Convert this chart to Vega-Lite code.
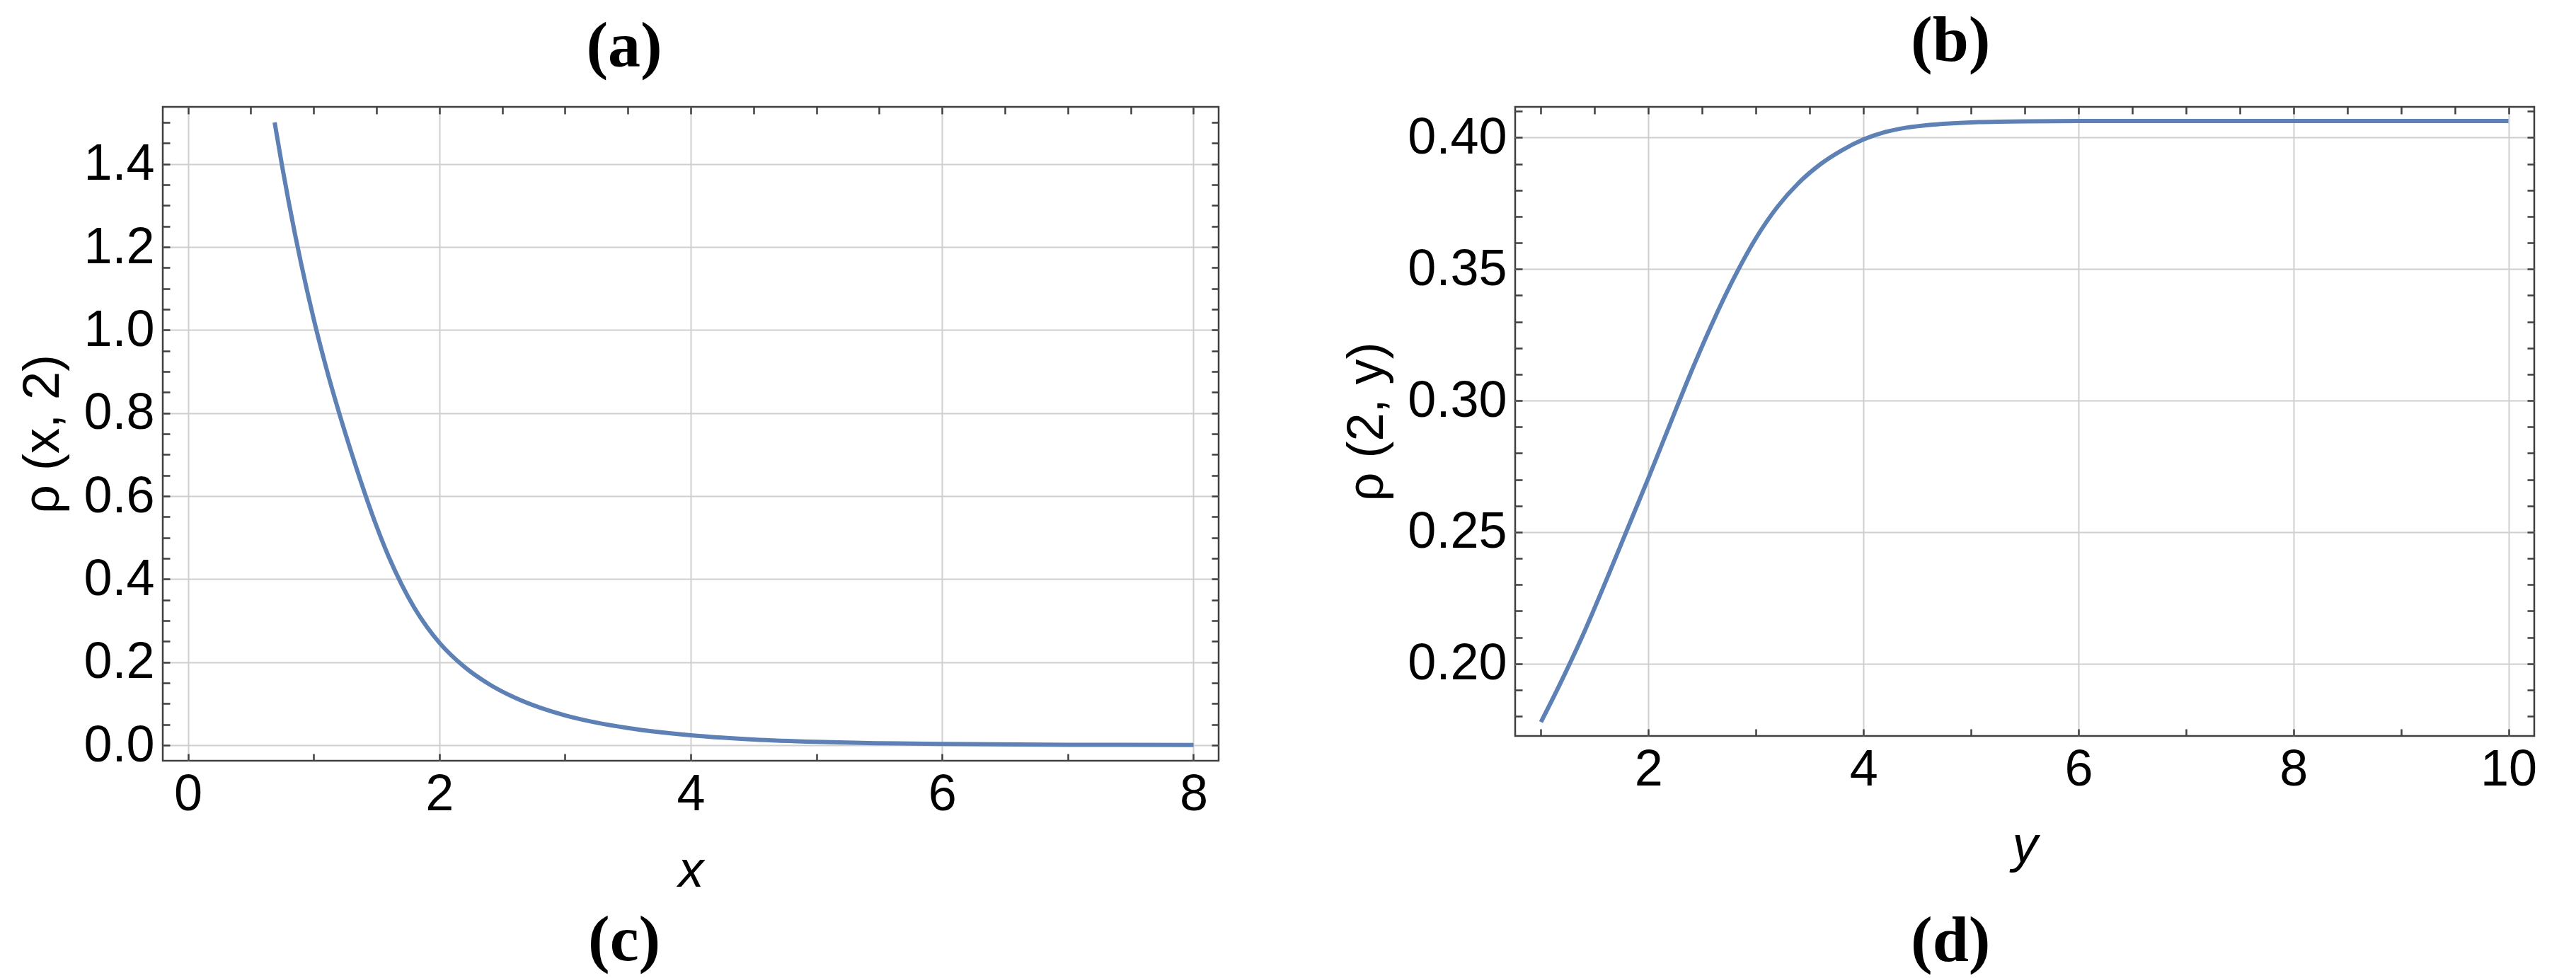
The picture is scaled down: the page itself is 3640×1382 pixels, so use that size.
{
  "$schema": "https://vega.github.io/schema/vega-lite/v6.json",
  "padding": {"left": 23, "top": 11, "right": 0, "bottom": 0},
  "background": "white",
  "config": {
    "view": {"stroke": "#404040", "strokeWidth": 2.5},
    "font": "Liberation Sans",
    "axis": {
      "labelFont": "Liberation Sans", "labelFontSize": 72, "labelColor": "black",
      "titleFont": "Liberation Sans", "titleFontSize": 72, "titleFontWeight": "normal", "titleColor": "black",
      "domain": false, "tickColor": "#404040", "tickWidth": 2.5, "tickSize": -10,
      "gridWidth": 2, "labelFlush": false, "labelOverlap": false, "labelBound": false, "zindex": 0
    },
    "title": {"font": "Liberation Serif", "fontSize": 92, "fontWeight": "bold", "color": "black", "anchor": "middle", "frame": "bounds"}
  },
  "spacing": 169,
  "hconcat": [
    {
      "title": {"text": "(c)", "orient": "bottom", "offset": 17, "dx": 8},
      "vconcat": [
        {
          "title": {"text": "(a)", "offset": 24, "dx": 8},
          "width": 1492,
          "height": 924,
          "data": {"values": [
            {"x": 0.69, "rho": 1.5}, {"x": 0.75, "rho": 1.394}, {"x": 0.8, "rho": 1.3115}, {"x": 0.9, "rho": 1.1608},
            {"x": 1.0, "rho": 1.0274}, {"x": 1.1, "rho": 0.9094}, {"x": 1.2, "rho": 0.8034}, {"x": 1.3, "rho": 0.7054},
            {"x": 1.4, "rho": 0.6133}, {"x": 1.5, "rho": 0.5279}, {"x": 1.6, "rho": 0.4521}, {"x": 1.7, "rho": 0.3872},
            {"x": 1.8, "rho": 0.3316}, {"x": 1.9, "rho": 0.2854}, {"x": 2.0, "rho": 0.2469}, {"x": 2.2, "rho": 0.1885},
            {"x": 2.4, "rho": 0.1462}, {"x": 2.6, "rho": 0.1146}, {"x": 2.8, "rho": 0.0905}, {"x": 3.0, "rho": 0.0719},
            {"x": 3.25, "rho": 0.0543}, {"x": 3.5, "rho": 0.0413}, {"x": 4.0, "rho": 0.0238}, {"x": 4.5, "rho": 0.0137},
            {"x": 5.0, "rho": 0.008}, {"x": 5.5, "rho": 0.0047}, {"x": 6.0, "rho": 0.0028}, {"x": 7.0, "rho": 0.001},
            {"x": 8.0, "rho": 0.0004}
          ]},
          "layer": [
            {
              "mark": {"type": "line", "color": "#5E81B5", "strokeWidth": 6, "interpolate": "monotone"},
              "encoding": {
                "x": {"field": "x", "type": "quantitative",
                  "scale": {"domain": [-0.2, 8.2], "nice": false, "zero": false},
                  "axis": {"title": "x", "titleFontStyle": "italic", "format": "d",
                    "values": [0,0.5,1,1.5,2,2.5,3,3.5,4,4.5,5,5.5,6,6.5,7,7.5,8],
                    "labelExpr": "datum.value % 2 == 0 ? datum.label : ''",
                    "gridColor": {"condition": {"test": "datum.value % 2 == 0", "value": "#cfcfcf"}, "value": "rgba(0,0,0,0)"},
                    "labelPadding": 22, "titlePadding": 37}},
                "y": {"field": "rho", "type": "quantitative",
                  "scale": {"domain": [-0.0375, 1.5375], "nice": false, "zero": false},
                  "axis": {"title": "ρ (x, 2)", "format": ".1f",
                    "values": [0,0.05,0.1,0.15,0.2,0.25,0.3,0.35,0.4,0.45,0.5,0.55,0.6,0.65,0.7,0.75,0.8,0.85,0.9,0.95,1,1.05,1.1,1.15,1.2,1.25,1.3,1.35,1.4,1.45,1.5],
                    "labelExpr": "round(datum.value*100) % 20 == 0 ? datum.label : ''",
                    "gridColor": {"condition": {"test": "round(datum.value*100) % 20 == 0", "value": "#cfcfcf"}, "value": "rgba(0,0,0,0)"},
                    "labelPadding": 22, "titlePadding": 20}}
              }
            },
            {
              "mark": {"type": "line", "opacity": 0},
              "encoding": {
                "x": {"field": "x", "type": "quantitative",
                  "axis": {"orient": "top", "title": null, "labels": false, "grid": false,
                    "values": [0,0.5,1,1.5,2,2.5,3,3.5,4,4.5,5,5.5,6,6.5,7,7.5,8]}},
                "y": {"field": "rho", "type": "quantitative",
                  "axis": {"orient": "right", "title": null, "labels": false, "grid": false,
                    "values": [0,0.05,0.1,0.15,0.2,0.25,0.3,0.35,0.4,0.45,0.5,0.55,0.6,0.65,0.7,0.75,0.8,0.85,0.9,0.95,1,1.05,1.1,1.15,1.2,1.25,1.3,1.35,1.4,1.45,1.5]}}
              }
            }
          ],
          "resolve": {"axis": {"x": "independent", "y": "independent"}}
        }
      ]
    },
    {
      "title": {"text": "(d)", "orient": "bottom", "offset": 53, "dx": 16},
      "vconcat": [
        {
          "title": {"text": "(b)", "offset": 16, "dx": 16},
          "width": 1440,
          "height": 889,
          "data": {"values": [
            {"y": 1.0, "rho": 0.1778}, {"y": 1.2, "rho": 0.1942}, {"y": 1.4, "rho": 0.2118}, {"y": 1.6, "rho": 0.231},
            {"y": 1.8, "rho": 0.2508}, {"y": 2.0, "rho": 0.2706}, {"y": 2.2, "rho": 0.291}, {"y": 2.4, "rho": 0.3112},
            {"y": 2.6, "rho": 0.33}, {"y": 2.8, "rho": 0.347}, {"y": 3.0, "rho": 0.3618}, {"y": 3.2, "rho": 0.3737},
            {"y": 3.4, "rho": 0.3829}, {"y": 3.6, "rho": 0.3899}, {"y": 3.8, "rho": 0.3952}, {"y": 4.0, "rho": 0.3993},
            {"y": 4.2, "rho": 0.4021}, {"y": 4.4, "rho": 0.4038}, {"y": 4.6, "rho": 0.4048}, {"y": 4.8, "rho": 0.4054},
            {"y": 5.0, "rho": 0.4058}, {"y": 5.5, "rho": 0.4062}, {"y": 6.0, "rho": 0.4063}, {"y": 7.0, "rho": 0.4063},
            {"y": 8.0, "rho": 0.4063}, {"y": 9.0, "rho": 0.4063}, {"y": 10.0, "rho": 0.4063}
          ]},
          "layer": [
            {
              "mark": {"type": "line", "color": "#5E81B5", "strokeWidth": 6, "interpolate": "monotone"},
              "encoding": {
                "x": {"field": "y", "type": "quantitative",
                  "scale": {"domain": [0.76, 10.24], "nice": false, "zero": false},
                  "axis": {"title": "y", "titleFontStyle": "italic", "format": "d",
                    "values": [1,1.5,2,2.5,3,3.5,4,4.5,5,5.5,6,6.5,7,7.5,8,8.5,9,9.5,10],
                    "labelExpr": "datum.value % 2 == 0 ? datum.label : ''",
                    "gridColor": {"condition": {"test": "datum.value % 2 == 0", "value": "#cfcfcf"}, "value": "rgba(0,0,0,0)"},
                    "labelPadding": 22, "titlePadding": 37}},
                "y": {"field": "rho", "type": "quantitative",
                  "scale": {"domain": [0.1725, 0.4117], "nice": false, "zero": false},
                  "axis": {"title": "ρ (2, y)", "format": ".2f",
                    "values": [0.18,0.19,0.2,0.21,0.22,0.23,0.24,0.25,0.26,0.27,0.28,0.29,0.3,0.31,0.32,0.33,0.34,0.35,0.36,0.37,0.38,0.39,0.4,0.41],
                    "labelExpr": "round(datum.value*100) % 5 == 0 ? datum.label : ''",
                    "gridColor": {"condition": {"test": "round(datum.value*100) % 5 == 0", "value": "#cfcfcf"}, "value": "rgba(0,0,0,0)"},
                    "labelPadding": 22, "titlePadding": 20}}
              }
            },
            {
              "mark": {"type": "line", "opacity": 0},
              "encoding": {
                "x": {"field": "y", "type": "quantitative",
                  "axis": {"orient": "top", "title": null, "labels": false, "grid": false,
                    "values": [1,1.5,2,2.5,3,3.5,4,4.5,5,5.5,6,6.5,7,7.5,8,8.5,9,9.5,10]}},
                "y": {"field": "rho", "type": "quantitative",
                  "axis": {"orient": "right", "title": null, "labels": false, "grid": false,
                    "values": [0.18,0.19,0.2,0.21,0.22,0.23,0.24,0.25,0.26,0.27,0.28,0.29,0.3,0.31,0.32,0.33,0.34,0.35,0.36,0.37,0.38,0.39,0.4,0.41]}}
              }
            }
          ],
          "resolve": {"axis": {"x": "independent", "y": "independent"}}
        }
      ]
    }
  ]
}
